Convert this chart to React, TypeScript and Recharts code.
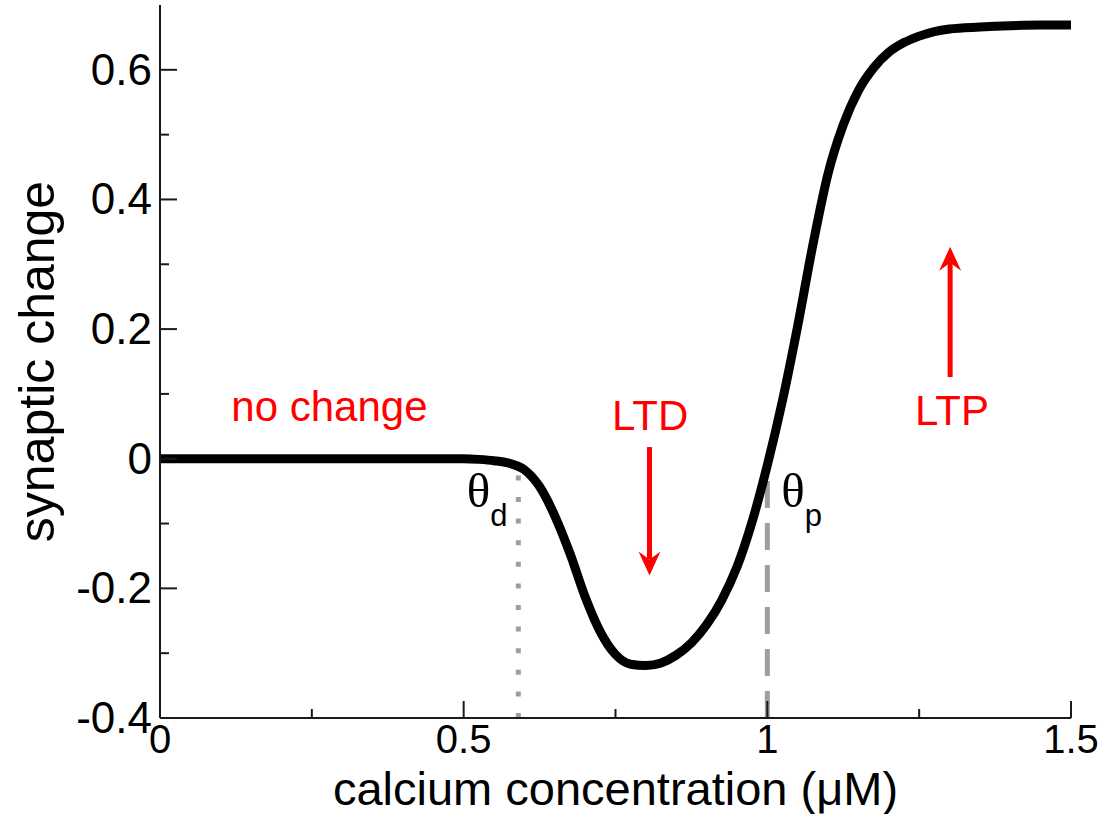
import {
  LineChart,
  Line,
  XAxis,
  YAxis,
  ReferenceLine,
  ReferenceDot,
} from 'recharts';

// calcium concentration (uM) and the synaptic change
const CALCIUM = [
  0, 0.1, 0.2, 0.3, 0.4, 0.5, 0.525, 0.55, 0.575, 0.6, 0.625, 0.65, 0.675,
  0.7, 0.725, 0.75, 0.775, 0.8, 0.825, 0.85, 0.875, 0.9, 0.925, 0.95, 0.975,
  1.0, 1.025, 1.05, 1.075, 1.1, 1.125, 1.15, 1.175, 1.2, 1.225, 1.25, 1.275,
  1.3, 1.35, 1.4, 1.45, 1.5,
];
const CHANGE = [
  0, 0, 0, 0, 0, 0, -0.001, -0.003, -0.007, -0.017, -0.043, -0.088, -0.146,
  -0.213, -0.267, -0.302, -0.317, -0.319, -0.315, -0.303, -0.284, -0.256,
  -0.218, -0.167, -0.097, -0.01, 0.09, 0.205, 0.33, 0.44, 0.515, 0.568, 0.603,
  0.627, 0.642, 0.652, 0.659, 0.663, 0.666, 0.668, 0.669, 0.669,
];

const X_TICKS = [0, 0.25, 0.5, 0.75, 1, 1.25, 1.5];
const X_LABELS = ['0', '', '0.5', '', '1', '', '1.5'];
const Y_TICKS = [-0.4, -0.3, -0.2, -0.1, 0, 0.1, 0.2, 0.3, 0.4, 0.5, 0.6];
const Y_LABELS = ['-0.4', '', '-0.2', '', '0', '', '0.2', '', '0.4', '', '0.6'];

// thresholds for depression / potentiation
const THETA_D = 0.59;
const THETA_P = 1.0;

const data = CALCIUM.map((x, i) => ({ x, y: CHANGE[i] }));

const FONT = '"Liberation Sans", Arial, Helvetica, sans-serif';
const AXIS_COLOR = '#1a1a1a';
const RED = '#ff0000';
const GRAY = '#9e9e9e';

if (typeof document !== 'undefined') document.body.style.margin = '0';

const XTick = ({ x, y, index }: any) => {
  const label = X_LABELS[index];
  const major = label !== '';
  return (
    <g>
      <line x1={x} x2={x} y1={y} y2={y - (major ? 17 : 9)} stroke={AXIS_COLOR} strokeWidth={2} />
      {major && (
        <text x={x} y={y + 35} textAnchor="middle" fontFamily={FONT} fontSize={40} fill="#000">
          {label}
        </text>
      )}
    </g>
  );
};

const YTick = ({ x, y, index }: any) => {
  const label = Y_LABELS[index];
  const major = label !== '';
  return (
    <g>
      <line x1={x} x2={x + (major ? 17 : 9)} y1={y} y2={y} stroke={AXIS_COLOR} strokeWidth={2} />
      {major && (
        <text x={x - 8} y={y + 15} textAnchor="end" fontFamily={FONT} fontSize={44} fill="#000">
          {label}
        </text>
      )}
    </g>
  );
};

const redText = (text: string) => ({ cx, cy }: any) => (
  <text x={cx} y={cy} textAnchor="middle" fontFamily={FONT} fontSize={42} fill={RED}>
    {text}
  </text>
);

const thetaText = (sub: string) => ({ cx, cy }: any) => (
  <text x={cx} y={cy} fill="#000">
    <tspan fontFamily='"Liberation Serif", "Times New Roman", serif' fontSize={49}>θ</tspan>
    <tspan fontFamily={FONT} fontSize={31} dy={19}>{sub}</tspan>
  </text>
);

const headDown = ({ cx, cy }: any) => (
  <polygon
    points={`${cx},${cy} ${cx - 11},${cy - 24} ${cx},${cy - 16} ${cx + 11},${cy - 24}`}
    fill={RED}
  />
);

const headUp = ({ cx, cy }: any) => (
  <polygon
    points={`${cx},${cy} ${cx - 11},${cy + 24} ${cx},${cy + 16} ${cx + 11},${cy + 24}`}
    fill={RED}
  />
);

export default function App() {
  return (
    <div style={{ width: 1106, height: 814, background: '#fff' }}>
      <LineChart
        width={1106}
        height={814}
        data={data}
        margin={{ top: 5, right: 35, bottom: 0, left: 0 }}
      >
        <XAxis
          dataKey="x"
          type="number"
          domain={[0, 1.5]}
          ticks={X_TICKS}
          interval={0}
          height={96}
          tickSize={0}
          tickMargin={0}
          tickLine={false}
          tick={<XTick />}
          axisLine={{ stroke: AXIS_COLOR, strokeWidth: 2 }}
          label={{
            value: 'calcium concentration (μM)',
            position: 'insideBottom',
            offset: 9,
            style: { fontFamily: FONT, fontSize: 47, fill: '#000' },
          }}
        />
        <YAxis
          type="number"
          domain={[-0.4, 0.7]}
          ticks={Y_TICKS}
          interval={0}
          width={160}
          tickSize={0}
          tickMargin={0}
          tickLine={false}
          tick={<YTick />}
          axisLine={{ stroke: AXIS_COLOR, strokeWidth: 2 }}
          label={{
            value: 'synaptic change',
            angle: -90,
            position: 'insideLeft',
            offset: 36,
            style: { fontFamily: FONT, fontSize: 50, fill: '#000', textAnchor: 'middle' },
          }}
        />

        {/* threshold markers */}
        <ReferenceLine
          segment={[{ x: THETA_D, y: -0.4 }, { x: THETA_D, y: -0.022 }]}
          stroke={GRAY}
          strokeWidth={5}
          strokeDasharray="5 16.6"
        />
        <ReferenceLine
          segment={[{ x: THETA_P, y: -0.4 }, { x: THETA_P, y: -0.026 }]}
          stroke={GRAY}
          strokeWidth={5}
          strokeDasharray="27 15"
        />

        <Line
          type="monotone"
          dataKey="y"
          stroke="#000"
          strokeWidth={9}
          dot={false}
          activeDot={false}
          isAnimationActive={false}
        />

        {/* arrows */}
        <ReferenceLine
          segment={[{ x: 0.806, y: 0.018 }, { x: 0.806, y: -0.155 }]}
          stroke={RED}
          strokeWidth={5}
        />
        <ReferenceDot x={0.806} y={-0.18} r={1} shape={headDown} />
        <ReferenceLine
          segment={[{ x: 1.301, y: 0.126 }, { x: 1.301, y: 0.302 }]}
          stroke={RED}
          strokeWidth={5}
        />
        <ReferenceDot x={1.301} y={0.327} r={1} shape={headUp} />

        {/* labels */}
        <ReferenceDot x={0.279} y={0.058} r={1} shape={redText('no change')} />
        <ReferenceDot x={0.807} y={0.045} r={1} shape={redText('LTD')} />
        <ReferenceDot x={1.304} y={0.052} r={1} shape={redText('LTP')} />
        <ReferenceDot x={0.505} y={-0.075} r={1} shape={thetaText('d')} />
        <ReferenceDot x={1.023} y={-0.074} r={1} shape={thetaText('p')} />
      </LineChart>
    </div>
  );
}
